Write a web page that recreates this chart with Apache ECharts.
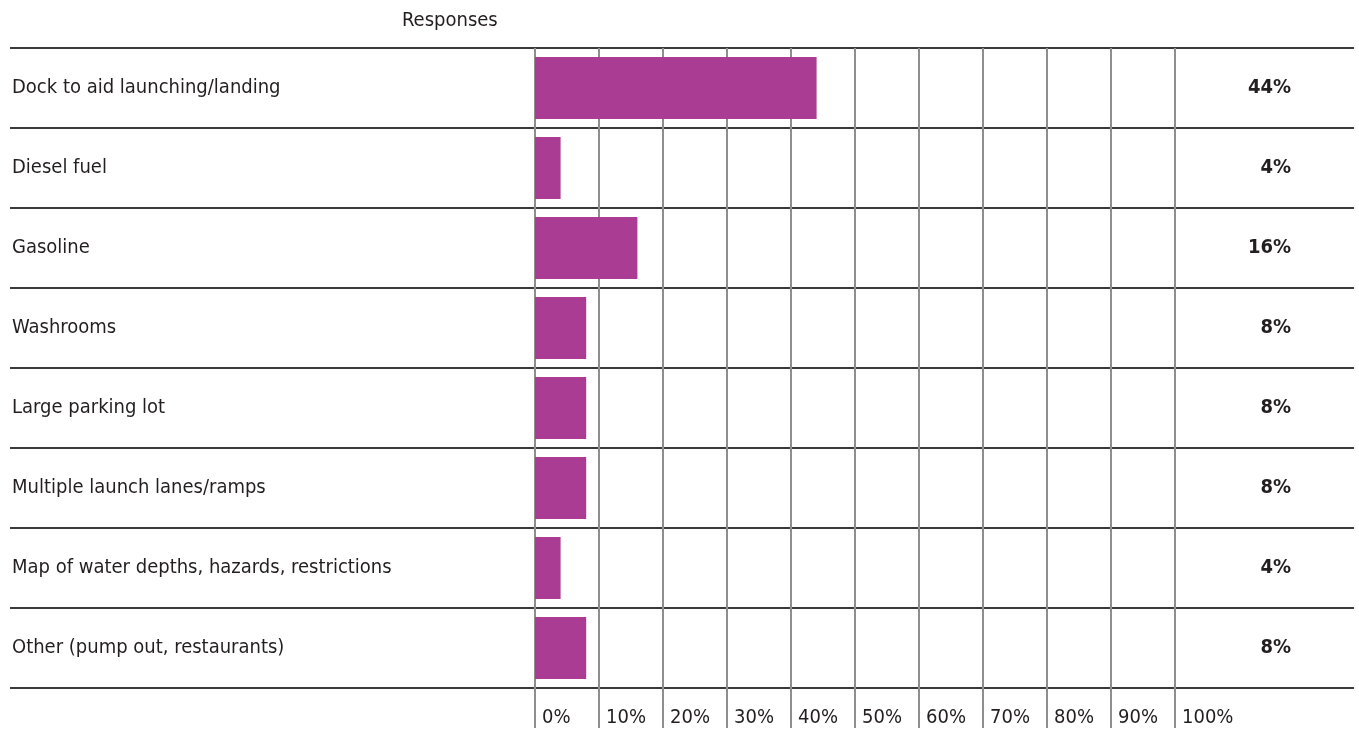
<!DOCTYPE html>
<html>
<head>
<meta charset="utf-8">
<script src="https://cdn.jsdelivr.net/npm/echarts@6/dist/echarts.min.js"></script>
<style>
  html, body { margin: 0; padding: 0; background: #ffffff; }
  #chart { width: 1359px; height: 731px; }
</style>
</head>
<body>
<div id="chart"></div>
<script>
// Survey: desired boat-launch facilities (share of responses)
const categories = [
  'Dock to aid launching/landing',
  'Diesel fuel',
  'Gasoline',
  'Washrooms',
  'Large parking lot',
  'Multiple launch lanes/ramps',
  'Map of water depths, hazards, restrictions',
  'Other (pump out, restaurants)'
];
const responses = [44, 4, 16, 8, 8, 8, 4, 8];
const tickValues = [0, 10, 20, 30, 40, 50, 60, 70, 80, 90, 100];

const FONT = '"Liberation Sans Narrow", "DejaVu Sans Condensed", "Liberation Sans", sans-serif';
const TEXT = '#231f20';
const RULE = '#3a3a3a';
const GRID = '#8e8e8e';
const BAR = '#aa3c93';

const chart = echarts.init(document.getElementById('chart'));

chart.setOption({
  animation: false,
  backgroundColor: '#ffffff',
  textStyle: { fontFamily: FONT, color: TEXT },
  title: {
    text: 'Responses',
    left: 397,
    top: 6,
    textStyle: { fontFamily: FONT, fontSize: 20, fontWeight: 'normal', color: TEXT }
  },
  grid: [
    // plotting area for the bars
    { left: 535, right: 184, top: 48, bottom: 43 },
    // full-width table rows carrying the labels and row rules
    { left: 10, right: 5, top: 48, bottom: 43 }
  ],
  xAxis: [
    {
      type: 'value',
      gridIndex: 0,
      min: 0,
      max: 100,
      interval: 10,
      axisLine: { show: false },
      axisTick: { show: true, length: 40, lineStyle: { color: GRID, width: 2 } },
      splitLine: { show: true, lineStyle: { color: GRID, width: 2 } },
      axisLabel: {
        formatter: v => tickValues.includes(v) ? v + '%' : '',
        align: 'left',
        verticalAlign: 'top',
        padding: [0, 0, 0, 7],
        margin: 20,
        fontFamily: FONT,
        fontSize: 20,
        color: TEXT,
        showMaxLabel: true,
        showMinLabel: true
      }
    },
    {
      type: 'value',
      gridIndex: 1,
      min: 0,
      max: 1,
      show: false
    }
  ],
  yAxis: [
    {
      type: 'category',
      gridIndex: 0,
      data: categories,
      inverse: true,
      axisLine: { show: false },
      axisTick: { show: false },
      axisLabel: { show: false },
      splitLine: { show: false }
    },
    {
      type: 'category',
      gridIndex: 1,
      data: categories,
      inverse: true,
      position: 'left',
      axisLine: { show: false },
      axisTick: { show: false },
      splitLine: { show: true, lineStyle: { color: RULE, width: 2 } },
      axisLabel: {
        inside: true,
        margin: 2,
        align: 'left',
        fontFamily: FONT,
        fontSize: 20,
        color: TEXT
      }
    },
    {
      type: 'category',
      gridIndex: 1,
      data: responses.map(v => v + '%'),
      inverse: true,
      position: 'right',
      axisLine: { show: false },
      axisTick: { show: false },
      splitLine: { show: false },
      axisLabel: {
        inside: true,
        margin: 63,
        align: 'right',
        fontFamily: FONT,
        fontSize: 20,
        fontWeight: 'bold',
        color: TEXT
      }
    }
  ],
  series: [
    {
      type: 'bar',
      xAxisIndex: 0,
      yAxisIndex: 0,
      data: responses,
      barWidth: 62,
      itemStyle: { color: BAR },
      z: 3
    }
  ]
});
</script>
</body>
</html>
